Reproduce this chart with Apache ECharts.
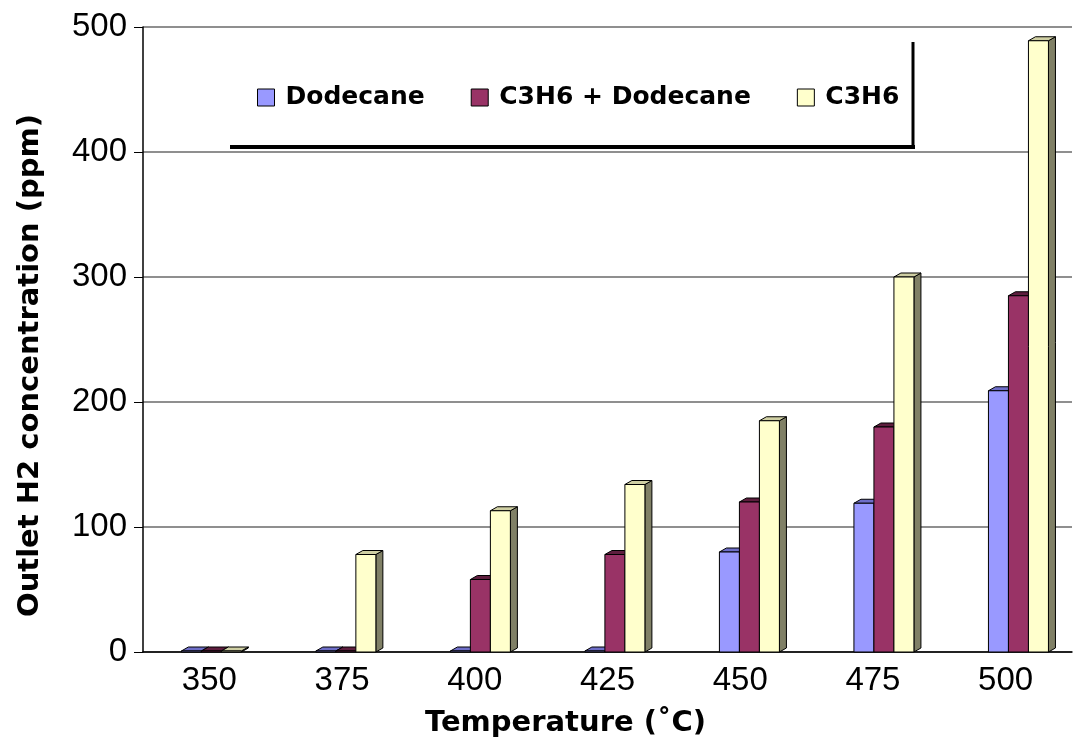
<!DOCTYPE html>
<html>
<head>
<meta charset="utf-8">
<script src="https://cdn.jsdelivr.net/npm/echarts@6.0.0/dist/echarts.min.js"></script>
<style>
html,body{margin:0;padding:0;background:#fff;}
#chart{width:1079px;height:746px;}
</style>
</head>
<body>
<div id="chart"></div>
<script>
const categories = ['350', '375', '400', '425', '450', '475', '500'];
const seriesNames = ['Dodecane', 'C3H6 + Dodecane', 'C3H6'];
const dodecane = [0, 0, 0, 0, 80, 119, 209];
const c3h6Dodecane = [0, 0, 58, 78, 120, 180, 285];
const c3h6 = [0, 78, 113, 134, 185, 300, 489];
const yTicks = { min: 0, max: 500, interval: 100 };

const seriesValues = [dodecane, c3h6Dodecane, c3h6];
const faceColors = [
  { front: '#9999FF', top: '#6E6EC8', side: '#5A5AA0' },
  { front: '#993366', top: '#5E1E3E', side: '#5E1E3E' },
  { front: '#FFFFCC', top: '#CFCFA3', side: '#808066' }
];

const BW = 20, DX = 7, DY = 4;

function makeRender(si) {
  const c = faceColors[si];
  return function (params, api) {
    const idx = api.value(0);
    const val = api.value(1);
    const base = api.coord([idx, 0]);
    const top = api.coord([idx, val]);
    const shift = 2 + 1.8 * idx;
    const x0 = base[0] + shift - 1.5 * BW + si * BW;
    let yb = base[1];
    let yt = top[1];
    if (yb - yt < 1) yt = yb - 1;
    const stroke = { stroke: '#000', lineWidth: 1 };
    return {
      type: 'group',
      children: [
        { type: 'polygon', shape: { points: [[x0 + BW, yt], [x0 + BW + DX, yt - DY], [x0 + BW + DX, yb - DY], [x0 + BW, yb]] },
          style: Object.assign({ fill: c.side }, stroke) },
        { type: 'polygon', shape: { points: [[x0, yt], [x0 + DX, yt - DY], [x0 + BW + DX, yt - DY], [x0 + BW, yt]] },
          style: Object.assign({ fill: c.top }, stroke) },
        { type: 'rect', shape: { x: x0, y: yt, width: BW, height: yb - yt },
          style: Object.assign({ fill: c.front }, stroke) }
      ]
    };
  };
}

const chart = echarts.init(document.getElementById('chart'), null, { renderer: 'canvas' });

const series = seriesValues.map((vals, si) => ({
  type: 'custom',
  name: seriesNames[si],
  renderItem: makeRender(si),
  encode: { x: 0, y: 1 },
  itemStyle: { color: faceColors[si].front, borderColor: '#000', borderWidth: 1 },
  data: vals.map((v, i) => [i, v]),
  z: 2 + si
}));

chart.setOption({
  animation: false,
  backgroundColor: '#fff',
  grid: { left: 143, right: 7, top: 27, bottom: 94, containLabel: false },
  legend: {
    data: seriesNames,
    left: 252,
    top: 80,
    icon: 'rect',
    itemWidth: 17,
    itemHeight: 17,
    itemGap: 46,
    itemStyle: { borderColor: '#000', borderWidth: 1 },
    textStyle: { fontFamily: 'DejaVu Sans', fontWeight: 'bold', fontSize: 25, color: '#000', padding: [0, 0, 0, 6] }
  },
  xAxis: {
    type: 'category',
    data: categories,
    axisLine: { show: true, lineStyle: { color: '#000', width: 1.5 } },
    axisTick: { show: false },
    axisLabel: { fontFamily: 'Liberation Sans', fontSize: 33, color: '#000', margin: 12 },
    name: 'Temperature (˚C)',
    nameLocation: 'middle',
    nameGap: 57,
    nameTextStyle: { fontFamily: 'DejaVu Sans', fontWeight: 'bold', fontSize: 29, color: '#000', padding: [0, 84, 0, 0] }
  },
  yAxis: {
    type: 'value',
    min: yTicks.min,
    max: yTicks.max,
    interval: yTicks.interval,
    axisLine: { show: true, lineStyle: { color: '#000', width: 1.5 } },
    axisTick: { show: true, inside: false, length: 9, lineStyle: { color: '#000' } },
    axisLabel: { fontFamily: 'Liberation Sans', fontSize: 33, color: '#000', margin: 16 },
    splitLine: { show: true, lineStyle: { color: '#6a6a6a', width: 1.5 } },
    name: 'Outlet H2 concentration (ppm)',
    nameLocation: 'middle',
    nameGap: 98,
    nameTextStyle: { fontFamily: 'DejaVu Sans', fontWeight: 'bold', fontSize: 29, color: '#000', padding: [0, 52, 0, 0] }
  },
  graphic: [
    { type: 'line', shape: { x1: 230, y1: 147, x2: 915, y2: 147 }, style: { stroke: '#000', lineWidth: 4 }, z: 10 },
    { type: 'line', shape: { x1: 913, y1: 42, x2: 913, y2: 149 }, style: { stroke: '#000', lineWidth: 3 }, z: 10 }
  ],
  series: series
});
</script>
</body>
</html>
